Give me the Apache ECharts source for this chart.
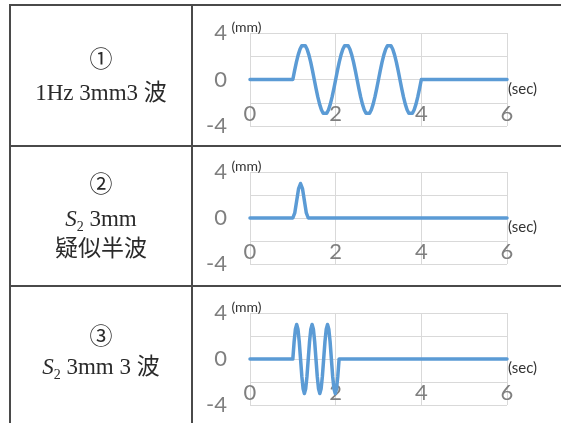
<!DOCTYPE html>
<html><head><meta charset="utf-8">
<script src="https://cdn.jsdelivr.net/npm/echarts@6/dist/echarts.min.js"></script>
<style>
html,body{margin:0;padding:0;background:#fff;}
#wrap{position:relative;width:561px;height:423px;overflow:hidden;background:#fff;}
#chart{position:absolute;left:0;top:0;width:561px;height:423px;}
.t{position:absolute;left:10px;width:182px;text-align:center;font-family:"Liberation Serif","Noto Sans CJK JP",serif;font-size:23px;line-height:30px;height:30px;color:#2a2a2a;white-space:nowrap;}
.t i{font-style:italic}
.t sub{font-size:14px;vertical-align:-5px;line-height:0}
.hl{position:absolute;left:10px;right:0;height:2px;background:#4a4a4a}
.vl{position:absolute;top:5px;bottom:0;width:2px;background:#4a4a4a}
</style></head>
<body>
<div id="wrap">
  <div id="chart"></div>
  <div class="hl" style="top:4px"></div>
  <div class="hl" style="top:145px"></div>
  <div class="hl" style="top:285px"></div>
  <div class="vl" style="left:9px;top:4px"></div>
  <div class="vl" style="left:191px;top:4px"></div>
  <div class="t" style="top:45px">①</div>
  <div class="t" style="top:78px">1Hz 3mm3 波</div>
  <div class="t" style="top:170px">②</div>
  <div class="t" style="top:204px"><i>S</i><sub>2</sub> 3mm</div>
  <div class="t" style="top:234px">疑似半波</div>
  <div class="t" style="top:322px">③</div>
  <div class="t" style="top:352px"><i>S</i><sub>2</sub> 3mm 3 波</div>
</div>
<script>
// Row 1: 1Hz 3mm 3 waves
const wave1Time = [0,
  1, 1.042, 1.083, 1.125, 1.167, 1.208, 1.25, 1.292, 1.333, 1.375, 1.417, 1.458,
  1.5, 1.542, 1.583, 1.625, 1.667, 1.708, 1.75, 1.792, 1.833, 1.875, 1.917, 1.958,
  2, 2.042, 2.083, 2.125, 2.167, 2.208, 2.25, 2.292, 2.333, 2.375, 2.417, 2.458,
  2.5, 2.542, 2.583, 2.625, 2.667, 2.708, 2.75, 2.792, 2.833, 2.875, 2.917, 2.958,
  3, 3.042, 3.083, 3.125, 3.167, 3.208, 3.25, 3.292, 3.333, 3.375, 3.417, 3.458,
  3.5, 3.542, 3.583, 3.625, 3.667, 3.708, 3.75, 3.792, 3.833, 3.875, 3.917, 3.958,
  4, 6];
const wave1Disp = [0,
  0, 0.78, 1.5, 2.12, 2.6, 2.9, 3, 2.9, 2.6, 2.12, 1.5, 0.78,
  0, -0.78, -1.5, -2.12, -2.6, -2.9, -3, -2.9, -2.6, -2.12, -1.5, -0.78,
  0, 0.78, 1.5, 2.12, 2.6, 2.9, 3, 2.9, 2.6, 2.12, 1.5, 0.78,
  0, -0.78, -1.5, -2.12, -2.6, -2.9, -3, -2.9, -2.6, -2.12, -1.5, -0.78,
  0, 0.78, 1.5, 2.12, 2.6, 2.9, 3, 2.9, 2.6, 2.12, 1.5, 0.78,
  0, -0.78, -1.5, -2.12, -2.6, -2.9, -3, -2.9, -2.6, -2.12, -1.5, -0.78,
  0, 0];
// Row 2: S2 3mm pseudo half wave
const wave2Time = [0, 1, 1.045, 1.09, 1.135, 1.18, 1.225, 1.27, 1.315, 1.36, 6];
const wave2Disp = [0, 0, 0.44, 1.5, 2.56, 3, 2.56, 1.5, 0.44, 0, 0];
// Row 3: S2 3mm 3 waves
const wave3Time = [0, 1, 1.03, 1.06, 1.09, 1.12, 1.15, 1.18, 1.21, 1.24, 1.27, 1.30, 1.33,
  1.36, 1.39, 1.42, 1.45, 1.48, 1.51, 1.54, 1.57, 1.60, 1.63, 1.66, 1.69,
  1.72, 1.75, 1.78, 1.81, 1.84, 1.87, 1.90, 1.93, 1.96, 1.99, 2.02, 2.05,
  2.08, 6];
const wave3Disp = [0, 0, 1.5, 2.6, 3, 2.6, 1.5, 0, -1.5, -2.6, -3, -2.6, -1.5,
  0, 1.5, 2.6, 3, 2.6, 1.5, 0, -1.5, -2.6, -3, -2.6, -1.5,
  0, 1.5, 2.6, 3, 2.6, 1.5, 0, -1.5, -2.6, -3, -2.6, -1.5,
  0, 0];
const xTicks = {min: 0, max: 6, interval: 2};
const yTicks = {min: -4, max: 4, interval: 2, labelled: [-4, 0, 4]};
const xName = '(sec)';
const yName = '(mm)';

const waves = [[wave1Time, wave1Disp], [wave2Time, wave2Disp], [wave3Time, wave3Disp]];
const gridTops = [33, 172, 313];
const gridH = [93, 92, 92];
const labelFont = 'Lato, "Open Sans", sans-serif';

const chart = echarts.init(document.getElementById('chart'), null, {renderer: 'canvas'});
const option = {
  animation: false,
  grid: gridTops.map((t, i) => ({left: 250, top: t, width: 257, height: gridH[i], outerBoundsMode: 'none', containLabel: false})),
  xAxis: waves.map((w, i) => ({
    type: 'value', gridIndex: i, min: xTicks.min, max: xTicks.max, interval: xTicks.interval,
    position: 'bottom', offset: -gridH[i] / 2,
    axisLine: {show: true, onZero: false, lineStyle: {color: '#d9d9d9', width: 1}},
    axisTick: {show: false},
    axisLabel: {margin: 23, fontSize: 22, color: '#7f7f7f', fontFamily: labelFont},
    splitLine: {show: true, lineStyle: {color: '#d9d9d9', width: 1}},
    name: xName, nameLocation: 'end', nameGap: 1,
    nameTextStyle: {fontSize: 15, color: '#333', fontFamily: labelFont, align: 'left', verticalAlign: 'top', padding: [2, 0, 0, 0]}
  })),
  yAxis: waves.map((w, i) => ({
    type: 'value', gridIndex: i, min: yTicks.min, max: yTicks.max, interval: yTicks.interval,
    axisLine: {show: false},
    axisTick: {show: false},
    axisLabel: {margin: 23, fontSize: 22, color: '#7f7f7f', fontFamily: labelFont,
      formatter: v => (yTicks.labelled.indexOf(v) >= 0 ? String(v) : '')},
    splitLine: {show: true, lineStyle: {color: '#d9d9d9', width: 1}},
    name: yName, nameLocation: 'end', nameGap: -1,
    nameTextStyle: {fontSize: 14, color: '#333', fontFamily: labelFont, align: 'center', padding: [0, 7, 0, 0]}
  })),
  series: waves.map((w, i) => ({
    type: 'line', xAxisIndex: i, yAxisIndex: i, showSymbol: false, symbol: 'none',
    lineStyle: {color: '#5b9bd5', width: 3.5, join: 'round', cap: 'round'},
    data: w[0].map((t, k) => [t, w[1][k]])
  }))
};
chart.setOption(option);
</script>
</body></html>
